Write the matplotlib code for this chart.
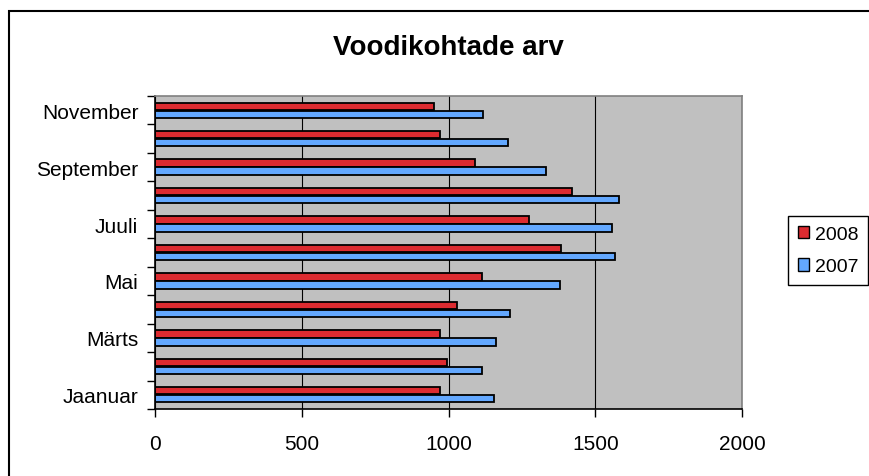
import numpy as np
import matplotlib
matplotlib.use("Agg")
import matplotlib.pyplot as plt
from matplotlib.patches import Patch, Rectangle

plt.rcParams["font.family"] = ["Liberation Sans", "DejaVu Sans"]

# ── Data ───────────────────────────────────────────────────────────────────────
months = ["Jaanuar", "Veebruar", "Märts", "Aprill", "Mai", "Juuni",
          "Juuli", "August", "September", "Oktoober", "November"]
beds_2008 = [972, 996, 972, 1030, 1114, 1385, 1273, 1421, 1091, 972, 949]
beds_2007 = [1156, 1114, 1163, 1209, 1379, 1568, 1556, 1582, 1333, 1202, 1119]
x_ticks = [0, 500, 1000, 1500, 2000]

RED = "#DC2B30"
BLUE = "#63A8FF"

W, H = 869, 477
fig = plt.figure(figsize=(W / 100, H / 100), dpi=100)
ax = fig.add_axes([155 / W, 1 - 410 / H, (742 - 155) / W, (410 - 97) / H])

# outer chart frame (cropped at right/bottom)
fig.patches.append(Rectangle((9 / W, -0.2), 1.2, 1.2 - 11.5 / H,
                             transform=fig.transFigure, fill=False,
                             edgecolor="black", linewidth=1.5, zorder=0))

y = np.arange(len(months))
h = 0.26
ax.barh(y + h / 2 + 0.01, beds_2008, height=h, color=RED,
        edgecolor="black", linewidth=1.3, label="2008")
ax.barh(y - h / 2 - 0.01, beds_2007, height=h, color=BLUE,
        edgecolor="black", linewidth=1.3, label="2007")

ax.set_facecolor("#C0C0C0")
ax.set_xlim(0, 2000)
ax.set_ylim(-0.5, len(months) - 0.5)
ax.set_axisbelow(True)
ax.grid(axis="x", color="black", linewidth=0.8)

ax.set_xticks(x_ticks)
ax.set_xticklabels([str(v) for v in x_ticks])
ax.tick_params(axis="x", length=6, width=1, pad=12, labelsize=15)

ax.set_yticks(y[::2])
ax.set_yticklabels(months[::2])
ax.set_yticks(np.arange(-0.5, len(months)), minor=True)
ax.tick_params(axis="y", which="major", length=0, pad=12, labelsize=15)
ax.tick_params(axis="y", which="minor", length=6, width=1)

for s in ("left", "bottom"):
    ax.spines[s].set_color("black")
    ax.spines[s].set_linewidth(1.2)
for s in ("top", "right"):
    ax.spines[s].set_color("#808080")
    ax.spines[s].set_linewidth(1.2)

fig.text(448 / W, 1 - 48 / H, "Voodikohtade arv", ha="center", va="center",
         fontsize=20, fontweight="bold")

handles = [Patch(facecolor=RED, edgecolor="black", label="2008"),
           Patch(facecolor=BLUE, edgecolor="black", label="2007")]
leg = fig.legend(handles=handles, loc="upper left",
                 bbox_to_anchor=(788 / W, 1 - 217 / H), fontsize=14,
                 frameon=True, fancybox=False, framealpha=1,
                 handlelength=0.6, handleheight=0.6, handletextpad=0.3,
                 borderpad=0.5, labelspacing=0.8, borderaxespad=0)
leg.get_frame().set_edgecolor("black")
leg.get_frame().set_linewidth(1.0)

fig.savefig("out.png", dpi=100)
